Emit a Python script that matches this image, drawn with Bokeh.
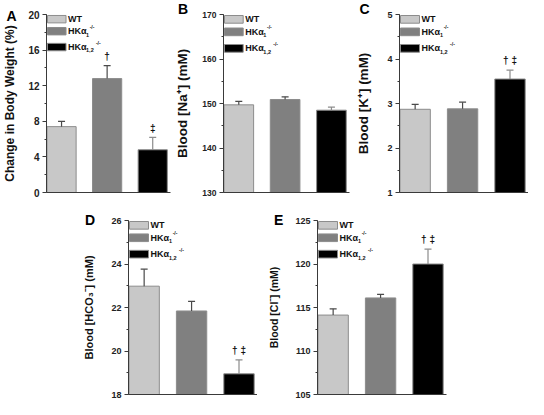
from bokeh.plotting import figure
from bokeh.layouts import row, column
from bokeh.models import Range1d, SingleIntervalTicker, FixedTicker, Label, Spacer, Title
from bokeh.embed import file_html
from bokeh.resources import INLINE

# ---------------- data ----------------
groups = ["WT", "HKα1-/-", "HKα1,2-/-"]

bw_mean = [7.4, 12.8, 4.8]
bw_err = [0.6, 1.45, 1.4]
bw_sig = ["", "†", "‡"]

na_mean = [149.7, 150.9, 148.5]
na_err = [0.8, 0.6, 0.7]
na_sig = ["", "", ""]

k_mean = [2.87, 2.88, 3.55]
k_err = [0.11, 0.15, 0.2]
k_sig = ["", "", "† ‡"]

hco3_mean = [22.98, 21.84, 18.95]
hco3_err = [0.78, 0.44, 0.64]
hco3_sig = ["", "", "† ‡"]

cl_mean = [114.13, 116.1, 120.0]
cl_err = [0.72, 0.4, 1.7]
cl_sig = ["", "", "† ‡"]

# ---------------- style ----------------
FONT = "Liberation Sans"
FILLS = ["#c8c8c8", "#808080", "#000000"]
OUTLINE = "#8c8c8c"
WHISK = ["#4a4a4a", "#4a4a4a", "#8c8c8c"]
AXIS = "#3a3a3a"
XSTART, XEND = -0.33, 2.39
BAR_W = 0.64


def panel(letter, means, errs, sig, ylabel, y0, y1, interval,
          W, H, L, R, T, B, lab_size, tick_size, lab_standoff,
          letter_dx, letter_standoff):
    fw = W - L - R
    fh = H - T - B
    p = figure(width=W, height=H, min_border_left=L, min_border_right=R,
               min_border_top=T, min_border_bottom=B,
               x_range=Range1d(XSTART, XEND), y_range=Range1d(y0, y1),
               output_backend="svg", toolbar_location=None)
    p.outline_line_color = None
    p.xgrid.visible = False
    p.ygrid.visible = False
    p.background_fill_color = "white"
    p.border_fill_color = "white"

    # panel letter as the title (sits left of / above the frame)
    p.title = Title(text=letter, align="left", offset=letter_dx,
                    standoff=letter_standoff, vertical_align="bottom",
                    text_font=FONT, text_font_size="14px",
                    text_font_style="bold", text_color="#000000")

    dxp = (XEND - XSTART) / fw   # data units per pixel
    dyp = (y1 - y0) / fh

    def px(x_px, y_px):
        # pixels measured from the frame's top-left corner
        return XSTART + x_px * dxp, y1 - y_px * dyp

    xs = list(range(len(groups)))
    p.vbar(x=xs, top=means, bottom=y0, width=BAR_W, fill_color=FILLS,
           line_color=OUTLINE, line_width=1)
    tops = [m + e for m, e in zip(means, errs)]
    p.segment(x0=xs, y0=means, x1=xs, y1=tops, line_color=WHISK, line_width=1.2)
    p.scatter(x=xs, y=tops, marker="dash", size=7, line_color=WHISK, line_width=1.2)

    for xi, t, s in zip(xs, tops, sig):
        if s:
            p.add_layout(Label(x=xi, y=t + 9.5 * dyp, text=s, text_font=FONT,
                               text_font_size="10px", text_font_style="bold",
                               text_align="center", text_baseline="middle",
                               text_color="#111111"))

    # y axis
    ax = p.yaxis[0]
    ax.ticker = SingleIntervalTicker(interval=interval, num_minor_ticks=2)
    ax.axis_label = ylabel
    ax.axis_label_text_font = FONT
    ax.axis_label_text_font_style = "bold"
    ax.axis_label_text_font_size = lab_size
    ax.axis_label_text_color = "#111111"
    ax.axis_label_standoff = lab_standoff
    ax.major_label_text_font = FONT
    ax.major_label_text_font_style = "bold"
    ax.major_label_text_font_size = tick_size
    ax.major_label_text_color = "#222222"
    ax.major_label_standoff = 3
    ax.axis_line_color = AXIS
    ax.major_tick_line_color = AXIS
    ax.minor_tick_line_color = AXIS
    ax.major_tick_in = 0
    ax.major_tick_out = 4
    ax.minor_tick_in = 0
    ax.minor_tick_out = 2

    # x axis: bare line
    bx = p.xaxis[0]
    bx.ticker = FixedTicker(ticks=[])
    bx.axis_label = None
    bx.major_tick_in = 0
    bx.major_tick_out = 0
    bx.minor_tick_in = 0
    bx.minor_tick_out = 0
    bx.major_label_standoff = 0
    bx.axis_label_standoff = 0
    bx.axis_line_color = AXIS

    # legend (custom)
    rows_y = [1, 13.5, 30]
    sw_h = 7.7
    fs = "9px"
    for i, ry in enumerate(rows_y):
        lx, ty = px(1, ry)
        rx, by = px(20, ry + sw_h)
        p.quad(left=[lx], right=[rx], top=[ty], bottom=[by],
               fill_color=FILLS[i], line_color=OUTLINE, line_width=1)
        tx, cy = px(22, ry + sw_h / 2)
        name = groups[i]
        if i == 0:
            p.add_layout(Label(x=tx, y=cy, text=name, text_font=FONT,
                               text_font_size=fs, text_font_style="bold",
                               text_baseline="middle", text_color="#111111"))
        else:
            base = name[:3]
            sub = name[3:name.index("-")]
            sup = name[name.index("-"):]
            p.add_layout(Label(x=tx, y=cy, text=base, text_font=FONT,
                               text_font_size=fs, text_font_style="bold",
                               text_baseline="middle", text_color="#111111"))
            sx_, sy_ = px(22 + 18.5, ry + sw_h / 2 + 3.5)
            p.add_layout(Label(x=sx_, y=sy_, text=sub, text_font=FONT,
                               text_font_size="5.5px", text_font_style="bold",
                               text_baseline="middle", text_color="#111111"))
            off = 18.5 + 3.2 * len(sub) + 0.5
            ux, uy = px(22 + off, ry + sw_h / 2 - 4.5)
            p.add_layout(Label(x=ux, y=uy, text=sup, text_font=FONT,
                               text_font_size="5px", text_font_style="bold",
                               text_baseline="middle", text_color="#111111"))
    return p


pA = panel("A", bw_mean, bw_err, bw_sig, "Change in Body Weight (%)", 0, 20, 4,
           W=172, H=204, L=43, R=2, T=7, B=12, lab_size="12px", tick_size="10px",
           lab_standoff=8, letter_dx=-40, letter_standoff=-18)
pB = panel("B", na_mean, na_err, na_sig, "Blood [Na⁺] (mM)", 130, 170, 10,
           W=179, H=204, L=49, R=2, T=14, B=12, lab_size="13.5px", tick_size="8.5px",
           lab_standoff=9, letter_dx=-45.5, letter_standoff=-5)
pC = panel("C", k_mean, k_err, k_sig, "Blood [K⁺] (mM)", 1, 5, 1,
           W=177, H=204, L=48, R=0, T=14, B=12, lab_size="13.5px", tick_size="9px",
           lab_standoff=13, letter_dx=-40, letter_standoff=-4)
pD = panel("D", hco3_mean, hco3_err, hco3_sig, "Blood [HCO₃ˉ] (mM)", 18, 26, 2,
           W=184, H=195, L=55, R=0, T=16, B=4, lab_size="11px", tick_size="9px",
           lab_standoff=13, letter_dx=-43.5, letter_standoff=-15)
pE = panel("E", cl_mean, cl_err, cl_sig, "Blood [Clˉ] (mM)", 105, 125, 5,
           W=191, H=195, L=60, R=2, T=15, B=5, lab_size="10.5px", tick_size="9px",
           lab_standoff=12, letter_dx=-43.5, letter_standoff=-15)

layout = column(row(pA, pB, pC), row(Spacer(width=73, height=195), pD, pE))

open("out.html", "w").write(file_html(layout, INLINE))
